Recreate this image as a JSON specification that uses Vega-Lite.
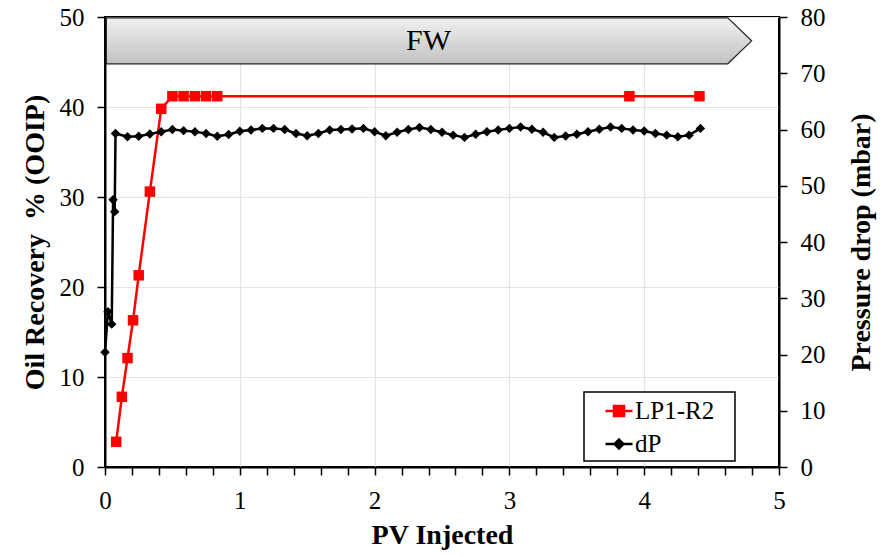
{
  "$schema": "https://vega.github.io/schema/vega-lite/v6.json",
  "width": 674,
  "height": 450,
  "autosize": {"type": "none"},
  "padding": {"left": 105, "top": 17, "right": 109, "bottom": 90},
  "background": "white",
  "config": {
    "font": "Liberation Serif",
    "view": {"stroke": "black", "strokeWidth": 2},
    "axis": {
      "labelFont": "Liberation Serif",
      "labelFontSize": 25,
      "labelColor": "black",
      "labelOverlap": false,
      "labelFlush": false,
      "titleFont": "Liberation Serif",
      "titleFontSize": 28,
      "titleFontWeight": "bold",
      "titleColor": "black",
      "domainColor": "black",
      "domainWidth": 2,
      "tickColor": "black",
      "tickWidth": 1.5,
      "tickSize": 8,
      "labelPadding": 13,
      "gridColor": "#e3e3e3",
      "gridWidth": 1.2
    }
  },
  "datasets": {
    "rec": [
      {"pv": 0.083, "v": 2.8, "s": "LP1-R2"},
      {"pv": 0.125, "v": 7.8, "s": "LP1-R2"},
      {"pv": 0.167, "v": 12.1, "s": "LP1-R2"},
      {"pv": 0.208, "v": 16.3, "s": "LP1-R2"},
      {"pv": 0.25, "v": 21.3, "s": "LP1-R2"},
      {"pv": 0.333, "v": 30.6, "s": "LP1-R2"},
      {"pv": 0.417, "v": 39.8, "s": "LP1-R2"},
      {"pv": 0.5, "v": 41.2, "s": "LP1-R2"},
      {"pv": 0.583, "v": 41.2, "s": "LP1-R2"},
      {"pv": 0.667, "v": 41.2, "s": "LP1-R2"},
      {"pv": 0.75, "v": 41.2, "s": "LP1-R2"},
      {"pv": 0.833, "v": 41.2, "s": "LP1-R2"},
      {"pv": 3.89, "v": 41.2, "s": "LP1-R2"},
      {"pv": 4.41, "v": 41.2, "s": "LP1-R2"}
    ],
    "dp": [
      {"pv": 0.0, "v": 20.4, "s": "dP"},
      {"pv": 0.022, "v": 27.6, "s": "dP"},
      {"pv": 0.05, "v": 25.4, "s": "dP"},
      {"pv": 0.06, "v": 47.5, "s": "dP"},
      {"pv": 0.072, "v": 45.4, "s": "dP"},
      {"pv": 0.078, "v": 59.3, "s": "dP"},
      {"pv": 0.167, "v": 58.7, "s": "dP"},
      {"pv": 0.25, "v": 58.8, "s": "dP"},
      {"pv": 0.333, "v": 59.2, "s": "dP"},
      {"pv": 0.417, "v": 59.6, "s": "dP"},
      {"pv": 0.5, "v": 60.0, "s": "dP"},
      {"pv": 0.583, "v": 59.8, "s": "dP"},
      {"pv": 0.667, "v": 59.6, "s": "dP"},
      {"pv": 0.75, "v": 59.3, "s": "dP"},
      {"pv": 0.833, "v": 58.8, "s": "dP"},
      {"pv": 0.917, "v": 59.1, "s": "dP"},
      {"pv": 1.0, "v": 59.7, "s": "dP"},
      {"pv": 1.083, "v": 59.9, "s": "dP"},
      {"pv": 1.167, "v": 60.2, "s": "dP"},
      {"pv": 1.25, "v": 60.2, "s": "dP"},
      {"pv": 1.333, "v": 60.0, "s": "dP"},
      {"pv": 1.417, "v": 59.3, "s": "dP"},
      {"pv": 1.5, "v": 58.9, "s": "dP"},
      {"pv": 1.583, "v": 59.3, "s": "dP"},
      {"pv": 1.667, "v": 59.9, "s": "dP"},
      {"pv": 1.75, "v": 60.0, "s": "dP"},
      {"pv": 1.833, "v": 60.1, "s": "dP"},
      {"pv": 1.917, "v": 60.2, "s": "dP"},
      {"pv": 2.0, "v": 59.6, "s": "dP"},
      {"pv": 2.083, "v": 58.9, "s": "dP"},
      {"pv": 2.167, "v": 59.5, "s": "dP"},
      {"pv": 2.25, "v": 60.0, "s": "dP"},
      {"pv": 2.333, "v": 60.35, "s": "dP"},
      {"pv": 2.417, "v": 60.0, "s": "dP"},
      {"pv": 2.5, "v": 59.5, "s": "dP"},
      {"pv": 2.583, "v": 59.0, "s": "dP"},
      {"pv": 2.667, "v": 58.6, "s": "dP"},
      {"pv": 2.75, "v": 59.15, "s": "dP"},
      {"pv": 2.833, "v": 59.6, "s": "dP"},
      {"pv": 2.917, "v": 59.9, "s": "dP"},
      {"pv": 3.0, "v": 60.2, "s": "dP"},
      {"pv": 3.083, "v": 60.45, "s": "dP"},
      {"pv": 3.167, "v": 60.05, "s": "dP"},
      {"pv": 3.25, "v": 59.5, "s": "dP"},
      {"pv": 3.333, "v": 58.6, "s": "dP"},
      {"pv": 3.417, "v": 58.85, "s": "dP"},
      {"pv": 3.5, "v": 59.15, "s": "dP"},
      {"pv": 3.583, "v": 59.6, "s": "dP"},
      {"pv": 3.667, "v": 60.05, "s": "dP"},
      {"pv": 3.75, "v": 60.45, "s": "dP"},
      {"pv": 3.833, "v": 60.2, "s": "dP"},
      {"pv": 3.917, "v": 59.9, "s": "dP"},
      {"pv": 4.0, "v": 59.75, "s": "dP"},
      {"pv": 4.083, "v": 59.3, "s": "dP"},
      {"pv": 4.167, "v": 59.0, "s": "dP"},
      {"pv": 4.25, "v": 58.7, "s": "dP"},
      {"pv": 4.333, "v": 59.0, "s": "dP"},
      {"pv": 4.417, "v": 60.2, "s": "dP"}
    ],
    "banner": [
      {"bx": 0.01, "b1": 44.8, "b2": 49.9},
      {"bx": 4.62, "b1": 44.8, "b2": 49.9},
      {"bx": 4.797, "b1": 47.35, "b2": 47.35}
    ],
    "label": [
      {"lx": 2.4, "ly": 47.3, "t": "FW"}
    ]
  },
  "encoding": {
    "x": {
      "field": "pv",
      "type": "quantitative",
      "scale": {"domain": [0, 5], "nice": false},
      "axis": {
        "title": "PV Injected",
        "titlePadding": 8,
        "labelOverlap": false,
        "values": [0, 0.2, 0.4, 0.6, 0.8, 1, 1.2, 1.4, 1.6, 1.8, 2, 2.2, 2.4, 2.6, 2.8, 3, 3.2, 3.4, 3.6, 3.8, 4, 4.2, 4.4, 4.6, 4.8, 5],
        "labelExpr": "abs(datum.value - round(datum.value)) < 0.001 ? format(round(datum.value), 'd') : ''",
        "gridOpacity": {"condition": {"test": "abs(datum.value - round(datum.value)) < 0.001 && datum.value > 0 && datum.value < 5", "value": 1}, "value": 0}
      }
    }
  },
  "layer": [
    {
      "layer": [
        {
          "data": {"name": "banner"},
          "mark": {
            "type": "area",
            "stroke": "#222222",
            "strokeWidth": 1.2,
            "fill": {
              "gradient": "linear",
              "x1": 0, "y1": 0, "x2": 0, "y2": 1,
              "stops": [
                {"offset": 0, "color": "#f0f0f0"},
                {"offset": 1, "color": "#c2c2c2"}
              ]
            }
          },
          "encoding": {
            "x": {"field": "bx", "type": "quantitative"},
            "y": {"field": "b1", "type": "quantitative"},
            "y2": {"field": "b2"}
          }
        },
        {
          "data": {"name": "label"},
          "mark": {"type": "text", "font": "Liberation Serif", "fontSize": 30, "color": "black", "baseline": "middle", "align": "center"},
          "encoding": {
            "x": {"field": "lx", "type": "quantitative"},
            "y": {"field": "ly", "type": "quantitative"},
            "text": {"field": "t"}
          }
        },
        {
          "data": {"name": "rec"},
          "mark": {"type": "line", "strokeWidth": 2.5},
          "encoding": {
            "y": {"field": "v", "type": "quantitative"},
            "color": {
              "field": "s", "type": "nominal",
              "scale": {"domain": ["LP1-R2", "dP"], "range": ["#ff0000", "#000000"]},
              "legend": {
                "title": "\u00a0",
                "titleOrient": "right",
                "titleFontSize": 14,
                "titlePadding": 17,
                "orient": "none",
                "legendX": 479,
                "legendY": 375,
                "padding": 4,
                "fillColor": "white",
                "strokeColor": "black",
                "symbolSize": 730,
                "symbolOffset": 16,
                "symbolStrokeWidth": 2.5,
                "rowPadding": 5,
                "labelOffset": 1,
                "labelFont": "Liberation Serif",
                "labelFontSize": 25,
                "labelColor": "black",
                "encode": {
                  "legend": {
                    "update": {
                      "strokeWidth": {"value": 1.5}
                    }
                  },
                  "symbols": {
                    "update": {
                      "shape": {"signal": "datum.value == 'LP1-R2' ? 'M-1,0H1M-0.37,-0.37H0.37V0.37H-0.37Z' : 'M-1,0H1M0,-0.33L0.33,0L0,0.33L-0.33,0Z'"},
                      "fill": {"signal": "datum.value == 'LP1-R2' ? '#ff0000' : '#000000'"},
                      "stroke": {"signal": "datum.value == 'LP1-R2' ? '#ff0000' : '#000000'"},
                      "strokeWidth": {"value": 2.5},
                      "opacity": {"value": 1}
                    }
                  }
                }
              }
            }
          }
        },
        {
          "data": {"name": "rec"},
          "mark": {"type": "point", "shape": "square", "filled": true, "size": 110, "color": "#ff0000", "opacity": 1},
          "encoding": {
            "y": {"field": "v", "type": "quantitative"}
          }
        }
      ],
      "encoding": {
        "y": {
          "type": "quantitative",
          "scale": {"domain": [0, 50], "nice": false, "zero": false},
          "axis": {
            "title": "Oil Recovery \u00a0% (OOIP)",
            "values": [0, 10, 20, 30, 40, 50],
            "titlePadding": 10
          }
        }
      }
    },
    {
      "data": {"name": "dp"},
      "layer": [
        {
          "mark": {"type": "line", "strokeWidth": 2.5},
          "encoding": {
            "color": {"field": "s", "type": "nominal"}
          }
        },
        {
          "mark": {"type": "point", "shape": "diamond", "filled": true, "size": 90, "color": "#000000", "opacity": 1},
          "encoding": {}
        }
      ],
      "encoding": {
        "y": {
          "field": "v",
          "type": "quantitative",
          "scale": {"domain": [0, 80], "nice": false, "zero": false},
          "axis": {
            "orient": "right",
            "title": "Pressure drop (mbar)",
            "values": [0, 10, 20, 30, 40, 50, 60, 70, 80],
            "grid": false,
            "titleAngle": 270,
            "titleBaseline": "top",
            "titlePadding": 22
          }
        }
      }
    }
  ],
  "resolve": {"scale": {"y": "independent"}}
}
